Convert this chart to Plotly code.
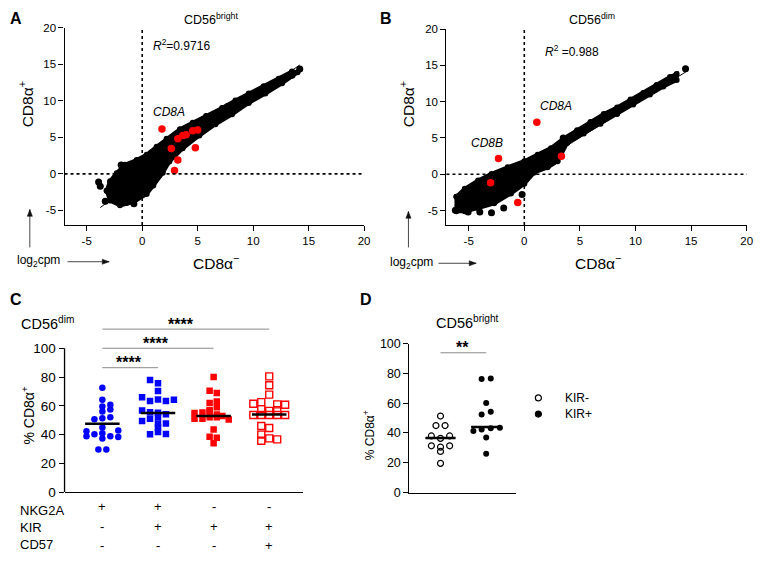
import plotly.graph_objects as go

# page is 762x562; plotly div sits inside the default 8px body margin
OFF = 8
W, H = 762 - 2 * OFF, 562 - 2 * OFF
def PX(x): return (x - OFF) / W
def PY(y): return 1 - (y - OFF) / H

# ---------------- Panel A data (CD56bright) ----------------
a_cloud_x = [-3.2, -2.9, -2.3, -1.55, -0.5, 0.4, 1.3, 2.2, 3.4, 4.55, 5.75, 7.2, 8.4, 9.6, 10.95, 12.3, 13.5,
             14.0, 12.6, 11.1, 9.6, 8.1, 6.6, 5.15, 3.65, 2.45, 1.85, 1.0, 0.4, -0.8, -2.0, -2.9]
a_cloud_y = [-2.3, -1.0, 0.1, 1.25, 1.9, 2.6, 3.7, 4.8, 6.1, 7.0, 7.9, 9.0, 10.05, 11.0, 12.0, 13.0, 14.0,
             13.9, 12.4, 11.0, 9.7, 8.15, 6.8, 5.25, 3.5, 1.7, 0.15, -1.6, -2.75, -3.85, -4.3, -3.65]
a_out_x = [-3.93, -3.78, -3.33, -1.9, -1.65, -1.45, -0.75, 0.85, 7.7, 13.5, 14.2]
a_out_y = [-1.1, -1.7, -3.75, 1.2, 1.0, -3.9, -4.1, 2.9, 9.2, 13.5, 14.35]
a_red_x = [1.78, 3.21, 3.66, 3.96, 4.55, 5.0, 2.62, 4.79, 3.21, 2.91]
a_red_y = [6.14, 4.8, 5.25, 5.34, 5.91, 6.0, 3.47, 3.56, 1.91, 0.45]
a_fit_x = [-3.78, 14.2]
a_fit_y = [-4.6, 14.9]

# ---------------- Panel B data (CD56dim) ----------------
b_cloud_x = [-6.1, -5.35, -4.15, -2.95, -1.5, 0.0, 1.2, 2.4, 3.55, 4.75, 5.95, 7.15, 8.35, 9.55, 10.7, 11.9, 13.1, 13.7,
             13.7, 12.5, 11.3, 9.8, 8.35, 6.85, 5.35, 3.85, 3.0, 2.1, 0.9, 0.0, -1.2, -2.7, -4.15, -5.35, -6.1]
b_cloud_y = [-3.1, -2.0, -0.85, 0.05, 0.95, 1.8, 2.7, 3.6, 4.95, 6.05, 7.2, 8.3, 9.2, 10.3, 11.2, 12.3, 13.4, 13.8,
             13.0, 12.1, 11.0, 9.6, 8.3, 6.95, 5.6, 4.3, 1.8, 0.95, 0.25, -1.3, -2.65, -4.0, -4.65, -5.1, -5.1]
b_out_x = [-6.2, -5.05, -4.0, -2.95, -1.85, -0.2, 3.5, 14.5]
b_out_y = [-4.95, -5.2, -5.2, -5.3, -4.65, -2.8, 5.0, 14.55]
b_red_x = [1.13, -2.32, 3.34, -3.03, -0.59]
b_red_y = [7.18, 2.18, 2.49, -1.17, -3.89]
b_fit_x = [-5.56, 14.73]
b_fit_y = [-5.0, 14.3]

scatter_ticks = [-5, 0, 5, 10, 15, 20]
scatter_ticktext = ["-5", "0", "5", "10", "15", "20"]

# ---------------- Panel C data ----------------
c_g1 = [72.5, 64.2, 59.5, 60.8, 56.1, 57.4, 50.7, 51.4, 52.0, 45.0, 42.4, 40.3, 41.0, 38.8, 42.8, 38.8, 38.3, 37.4, 29.7, 29.7]
c_g1_off = [0, 0, 0, 1, 0, 1, -1, 0, 1, 0, -2, -1, 0, 1, 2, -2, 2, 0, -0.5, 0.5]
c_g2 = [78.0, 75.7, 70.3, 66.0, 63.3, 64.4, 63.3, 64.2, 56.8, 55.6, 55.2, 54.1, 51.0, 49.5, 52.0, 47.8, 47.8, 45.0, 40.3, 41.9, 40.5]
c_g2_off = [-1, 0, 0, -2, -1, 0, 1, 2, -2, -1, 0, 1, -1, -2, 0, 0, 1, 0, -1, 0, 1]
c_g3 = [80.0, 70.5, 69.0, 62.0, 63.0, 59.0, 57.0, 55.0, 55.4, 56.5, 54.0, 53.0, 50.5, 51.0, 51.0, 52.0, 52.0, 43.5, 38.5, 37.8, 34.0]
c_g3_off = [0, -0.5, 0.4, -0.5, 0.4, 0.4, -0.5, -2.4, -1.4, -0.5, 0.4, 1.1, 1.9, -2.4, -1.4, -0.5, 0.4, 0, -0.5, 0.4, 0]
c_g4 = [80.5, 74.3, 67.8, 62.6, 61.5, 61.0, 60.8, 57.7, 56.5, 57.0, 53.6, 53.6, 53.6, 53.6, 53.6, 46.0, 44.6, 40.0, 35.8, 37.4, 36.7]
c_g4_off = [0, 0, 0, -1, -2, 1, 2, -1, 0, 1, -2, -1, 0, 1, 2, -1, 0, -1, -1, 0, 1]
c_means = [47.5, 55.0, 53.0, 54.0]
c_rows = ["NKG2A", "KIR", "CD57"]
c_signs = [["+", "+", "-", "-"], ["-", "+", "+", "+"], ["-", "-", "-", "+"]]
c_sig_from = [0, 0, 0]
c_sig_to = [1, 2, 3]
c_sig_y = [86.5, 100.0, 113.3]
c_sig_txt = ["****", "****", "****"]

# ---------------- Panel D data ----------------
d_neg = [51.4, 45.0, 45.0, 38.0, 36.4, 38.0, 31.4, 30.5, 31.4, 27.6, 19.6]
d_neg_off = [0, -0.5, 0.5, -1, 0, 1, -1, 0, 1, 0, 0]
d_pos = [76.3, 76.7, 60.1, 52.5, 54.2, 41.4, 42.3, 43.2, 43.6, 37.0, 26.1]
d_pos_off = [-0.5, 0.5, 0, -0.5, 0.5, -1.4, -0.5, 0.5, 1.5, 0, 0]
d_medians = [36.6, 44.0]
d_sig_y = 93.9
d_sig_txt = "**"

FONT = "Liberation Sans, Arial, sans-serif"
fig = go.Figure()

def cloud(xs, ys, ox, oy, rx, ry, fx, fy, xa, ya):
    fig.add_trace(go.Scatter(x=fx, y=fy, mode="lines", line=dict(color="black", width=1), xaxis=xa, yaxis=ya, showlegend=False))
    fig.add_trace(go.Scatter(x=xs + [xs[0]], y=ys + [ys[0]], mode="lines+markers", fill="toself", fillcolor="black",
                             line=dict(color="black", width=4), marker=dict(color="black", size=6),
                             xaxis=xa, yaxis=ya, showlegend=False))
    fig.add_trace(go.Scatter(x=ox, y=oy, mode="markers", marker=dict(color="black", size=7), xaxis=xa, yaxis=ya, showlegend=False))
    fig.add_trace(go.Scatter(x=rx, y=ry, mode="markers", marker=dict(color="#ff0000", size=7.5), xaxis=xa, yaxis=ya, showlegend=False))

cloud(a_cloud_x, a_cloud_y, a_out_x, a_out_y, a_red_x, a_red_y, a_fit_x, a_fit_y, "x", "y")
cloud(b_cloud_x, b_cloud_y, b_out_x, b_out_y, b_red_x, b_red_y, b_fit_x, b_fit_y, "x2", "y2")

# Panel C points
step_c = 0.143
groups = [(c_g1, c_g1_off, "circle", "#0000ff"), (c_g2, c_g2_off, "square", "#0000ff"),
          (c_g3, c_g3_off, "square", "#ff0000"), (c_g4, c_g4_off, "square-open", "#ff0000")]
for i, (vals, offs, sym, col) in enumerate(groups):
    mk = dict(symbol=sym, color=col, size=6.5)
    if sym == "square-open":
        mk = dict(symbol=sym, color=col, size=7, line=dict(color=col, width=1.4))
    fig.add_trace(go.Scatter(x=[i + o * step_c for o in offs], y=vals, mode="markers", marker=mk,
                             xaxis="x3", yaxis="y3", showlegend=False))
    fig.add_trace(go.Scatter(x=[i - 0.31, i + 0.31], y=[c_means[i], c_means[i]], mode="lines",
                             line=dict(color="black", width=2.5), xaxis="x3", yaxis="y3", showlegend=False))

# Panel D points
step_d = 0.2
fig.add_trace(go.Scatter(x=[0 + o * step_d for o in d_neg_off], y=d_neg, mode="markers",
                         marker=dict(symbol="circle-open", color="black", size=6, line=dict(width=1.2, color="black")),
                         xaxis="x4", yaxis="y4", showlegend=False))
fig.add_trace(go.Scatter(x=[1 + o * step_d for o in d_pos_off], y=d_pos, mode="markers",
                         marker=dict(symbol="circle", color="black", size=6),
                         xaxis="x4", yaxis="y4", showlegend=False))
for i, m in enumerate(d_medians):
    fig.add_trace(go.Scatter(x=[i - 0.33, i + 0.33], y=[m, m], mode="lines", line=dict(color="black", width=2.5),
                             xaxis="x4", yaxis="y4", showlegend=False))

ax_common = dict(showgrid=False, zeroline=False, showline=True, linecolor="black", linewidth=1.3,
                 ticks="outside", ticklen=5, tickwidth=1.3, tickcolor="black", ticklabeloverflow="allow")

layout = dict(
    width=W, height=H, margin=dict(l=0, r=0, t=0, b=0), paper_bgcolor="white", plot_bgcolor="white",
    font=dict(family=FONT, color="black"),
    xaxis=dict(domain=[PX(65), PX(367)], range=[-7, 20], tickvals=scatter_ticks, ticktext=scatter_ticktext,
               anchor="y", tickfont=dict(size=11.5), **ax_common),
    yaxis=dict(domain=[PY(224), PY(21)], range=[-7, 20], tickvals=scatter_ticks, ticktext=scatter_ticktext,
               anchor="x", tickfont=dict(size=11.5), **ax_common),
    xaxis2=dict(domain=[PX(450), PX(752.7)], range=[-7, 20], tickvals=scatter_ticks, ticktext=scatter_ticktext,
                anchor="y2", tickfont=dict(size=11.5), **ax_common),
    yaxis2=dict(domain=[PY(224), PY(22.5)], range=[-7, 20], tickvals=scatter_ticks, ticktext=scatter_ticktext,
                anchor="x2", tickfont=dict(size=11.5), **ax_common),
    xaxis3=dict(domain=[PX(65), PX(305)], range=[-0.68, 3.6], showticklabels=False, anchor="y3",
                showgrid=False, zeroline=False, showline=True, linecolor="black", linewidth=1.3, ticks=""),
    yaxis3=dict(domain=[PY(498.7), PY(318.1)], range=[0, 122], tickvals=[0, 20, 40, 60, 80, 100], anchor="x3",
                showgrid=False, zeroline=False, showline=False, ticks="outside", ticklen=5, tickwidth=1.3,
                tickcolor="black", tickfont=dict(size=13.5)),
    xaxis4=dict(domain=[PX(412.7), PX(520)], range=[-0.68, 1.65], showticklabels=False, anchor="y4",
                showgrid=False, zeroline=False, showline=True, linecolor="black", linewidth=1.3, ticks=""),
    yaxis4=dict(domain=[PY(499), PY(346)], range=[0, 100], tickvals=[0, 20, 40, 60, 80, 100], anchor="x4",
                tickfont=dict(size=12.5), **ax_common),
)
fig.update_layout(**layout)

shapes = []
# dotted zero lines
for xa, ya in [("x", "y"), ("x2", "y2")]:
    shapes.append(dict(type="line", xref=xa, yref=ya + " domain", x0=0, x1=0, y0=0, y1=1,
                       line=dict(color="black", width=1.6, dash="dot")))
    shapes.append(dict(type="line", xref=xa + " domain", yref=ya, x0=0, x1=1, y0=0, y1=0,
                       line=dict(color="black", width=1.6, dash="dot")))
# C y axis line 0-100
shapes.append(dict(type="line", xref="x3 domain", yref="y3", x0=0, x1=0, y0=0, y1=100,
                   line=dict(color="black", width=1.3)))
# C significance bars
for f, t, yv in zip(c_sig_from, c_sig_to, c_sig_y):
    shapes.append(dict(type="line", xref="x3", yref="y3", x0=f, x1=t, y0=yv, y1=yv,
                       line=dict(color="#8a8a8a", width=1)))
shapes.append(dict(type="line", xref="x4", yref="y4", x0=0, x1=1, y0=d_sig_y, y1=d_sig_y,
                   line=dict(color="#8a8a8a", width=1)))
# D legend symbols
for yy, fillc in [(401.7, "white"), (418.3, "black")]:
    shapes.append(dict(type="circle", xref="paper", yref="paper", xsizemode="pixel", ysizemode="pixel",
                       xanchor=PX(542.7), yanchor=PY(yy), x0=-3, x1=3, y0=-3, y1=3,
                       line=dict(color="black", width=1.2), fillcolor=fillc))
# log2cpm arrows (line + triangular head)
def arrow(x0, y0, x1, y1):
    shapes.append(dict(type="line", xref="paper", yref="paper", x0=PX(x0), y0=PY(y0), x1=PX(x1), y1=PY(y1),
                       line=dict(color="#333333", width=0.9)))
    if x0 == x1:  # vertical, head at (x1, y1) pointing up
        p = f"M {PX(x1)},{PY(y1)} L {PX(x1 - 2.6)},{PY(y1 + 7)} L {PX(x1 + 2.6)},{PY(y1 + 7)} Z"
    else:  # horizontal, head pointing right
        p = f"M {PX(x1)},{PY(y1)} L {PX(x1 - 7)},{PY(y1 - 2.6)} L {PX(x1 - 7)},{PY(y1 + 2.6)} Z"
    shapes.append(dict(type="path", xref="paper", yref="paper", path=p, fillcolor="#111111",
                       line=dict(color="#111111", width=0.5)))
arrow(30, 247, 30, 208)
arrow(68, 261.7, 110, 261.7)
arrow(411.7, 247, 411.7, 210)
arrow(442, 263.3, 480, 263.3)
fig.update_layout(shapes=shapes)

ann = []
def T(text, x, y, size, xanchor="center", yanchor="middle", angle=0, xref="paper", yref="paper", **kw):
    ann.append(dict(text=text, x=x, y=y, xref=xref, yref=yref, showarrow=False, xanchor=xanchor,
                    yanchor=yanchor, textangle=angle, font=dict(size=size, family=FONT, color="black"), **kw))

# panel letters (kept inside the drawable page area)
T("<b>A</b>", PX(8.5), PY(12), 16, xanchor="left")
T("<b>B</b>", PX(389), PY(12), 16)
T("<b>C</b>", PX(8.5), PY(301), 16, xanchor="left")
T("<b>D</b>", PX(369), PY(301), 16)
# titles
T("CD56<sup>bright</sup>", PX(213), PY(12), 12.5)
T("CD56<sup>dim</sup>", PX(597), PY(12), 12.5)
T("CD56<sup>dim</sup>", PX(19), PY(325), 14.5, xanchor="left")
T("CD56<sup>bright</sup>", PX(471.7), PY(324), 14.5)
# axis titles A/B
T("CD8α<sup>+</sup>", PX(27), PY(100), 15.5, angle=-90)
T("CD8α<sup>−</sup>", PX(218), PY(262), 15.5)
T("CD8α<sup>+</sup>", PX(411), PY(100), 15.5, angle=-90)
T("CD8α<sup>−</sup>", PX(603), PY(262), 15.5)
# R^2 and gene labels
T("<i>R</i><sup>2</sup>=0.9716", 0.8, 17.6, 12, xanchor="left", xref="x", yref="y")
T("<i>R</i><sup>2</sup> =0.988", 1.64, 17.0, 12, xanchor="left", xref="x2", yref="y2")
T("<i>CD8A</i>", 0.8, 8.5, 12, xanchor="left", xref="x", yref="y")
T("<i>CD8A</i>", 1.19, 9.4, 12, xanchor="left", xref="x2", yref="y2")
T("<i>CD8B</i>", -5.0, 4.3, 12, xanchor="left", xref="x2", yref="y2")
# log2cpm labels
T("log<sub>2</sub>cpm", PX(39), PY(261), 12)
T("log<sub>2</sub>cpm", PX(415), PY(263), 12)
# C labels
T("% CD8α<sup>+</sup>", PX(28), PY(420), 14, angle=-90)
row_py = [517, 535, 552]
sign_py = [513, 534, 553]
for r, name in enumerate(c_rows):
    T(name, PX(18), PY(row_py[r]), 13, xanchor="left")
    for i, s in enumerate(c_signs[r]):
        T(s, i, PY(sign_py[r]), 13, xref="x3")
star_x = [0.48, 0.97, 1.42]
for sx, yv, st in zip(star_x, c_sig_y, c_sig_txt):
    T("<b>" + st + "</b>", sx, yv - 4.0, 16, yanchor="bottom", xref="x3", yref="y3")
T("<b>" + d_sig_txt + "</b>", 0.49, d_sig_y - 3.8, 16, yanchor="bottom", xref="x4", yref="y4")
# D axis title + legend text
T("% CD8α<sup>+</sup>", PX(372), PY(440), 12, angle=-90)
T("KIR-", PX(568), PY(401.7), 12, xanchor="left")
T("KIR+", PX(568), PY(418.3), 12, xanchor="left")

fig.update_layout(annotations=ann)
fig.write_html("out.html", config={"displayModeBar": False})
